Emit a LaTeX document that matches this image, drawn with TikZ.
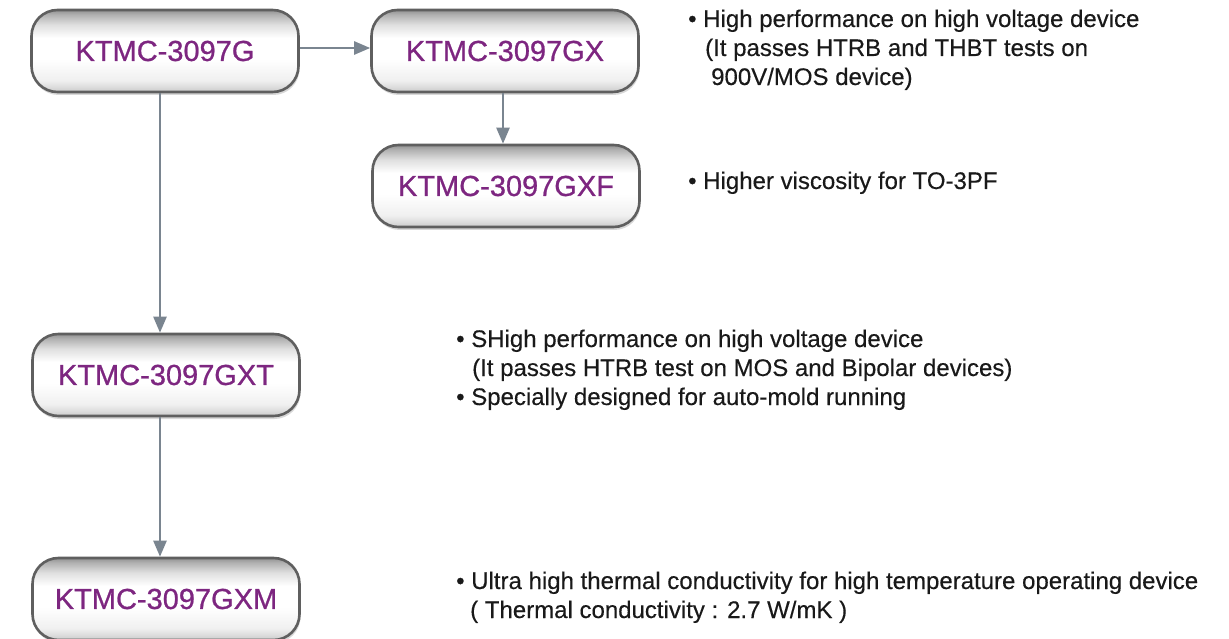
\documentclass[tikz,border=0pt]{standalone}
\usepackage{fontspec}
\setmainfont{Liberation Sans}
\newfontfamily\lblfont[FakeBold=0.8]{Liberation Sans}
\newfontfamily\descfont[FakeBold=0.3]{Liberation Sans}
\usetikzlibrary{arrows.meta,shadows}
\definecolor{lbl}{RGB}{125,38,128}
\definecolor{arr}{RGB}{122,133,144}
\definecolor{bd}{RGB}{95,95,95}
\definecolor{txt}{RGB}{25,25,25}
\pgfdeclareverticalshading{pillshade}{100bp}{color(0bp)=(gray!40); color(25bp)=(gray!40); color(32bp)=(gray!12); color(45bp)=(white); color(58bp)=(white); color(66bp)=(gray!25); color(72bp)=(gray!60); color(75bp)=(gray!85); color(100bp)=(gray!85)}
\begin{document}
\begin{tikzpicture}[x=1pt,y=-1pt,
 pill/.style={rectangle, rounded corners=26pt, minimum width=267pt, minimum height=82pt,
   draw=bd, line width=2.6pt, shading=pillshade,
   font=\lblfont\fontsize{29}{30}\selectfont, text=lbl, inner sep=0pt,
   drop shadow={shadow xshift=1pt, shadow yshift=-3pt, opacity=0.3}},
 desc/.style={anchor=base west, align=left, inner sep=0pt, font=\descfont\fontsize{24}{29}\selectfont, text=txt},
 link/.style={draw=arr, line width=2.4pt, -{Triangle[length=16pt,width=13pt]}}]
\useasboundingbox (0,0) rectangle (1229,639);
\fill[white] (0,0) rectangle (1229,639);

\node[pill] (g)   at (165,51)  {KTMC-3097G};
\node[pill] (gx)  at (505,51)  {KTMC-3097GX};
\node[pill] (gxf) at (506,186) {KTMC-3097GXF};
\node[pill] (gxt) at (166,375) {KTMC-3097GXT};
\node[pill] (gxm) at (166,599) {KTMC-3097GXM};

\draw[link] ([yshift=3pt]g.east) -- ([yshift=3pt]gx.west);
\coordinate (c1) at ([xshift=-5pt]g.south);
\draw[link] (c1) -- (c1 |- gxt.north);
\coordinate (c2) at ([xshift=-2pt]gx.south);
\draw[link] (c2) -- (c2 |- gxf.north);
\coordinate (c3) at ([xshift=-6pt]gxt.south);
\draw[link] (c3) -- (c3 |- gxm.north);

\node[desc] (d1) at (688,85) {• High performance on high voltage device\\\hspace*{17pt}(It passes HTRB and THBT tests on\\\hspace*{23pt}900V/MOS device)};
\node[desc] (d2) at (688,189) {• Higher viscosity for TO-3PF};
\node[desc] (d3) at (456,405) {• SHigh performance on high voltage device\\\hspace*{16pt}(It passes HTRB test on MOS and Bipolar devices)\\• Specially designed for auto-mold running};
\node[desc] (d4) at (456,618) {• Ultra high thermal conductivity for high temperature operating device\\\hspace*{14pt}( Thermal conductivity : 2.7 W/mK )};
\end{tikzpicture}
\end{document}
